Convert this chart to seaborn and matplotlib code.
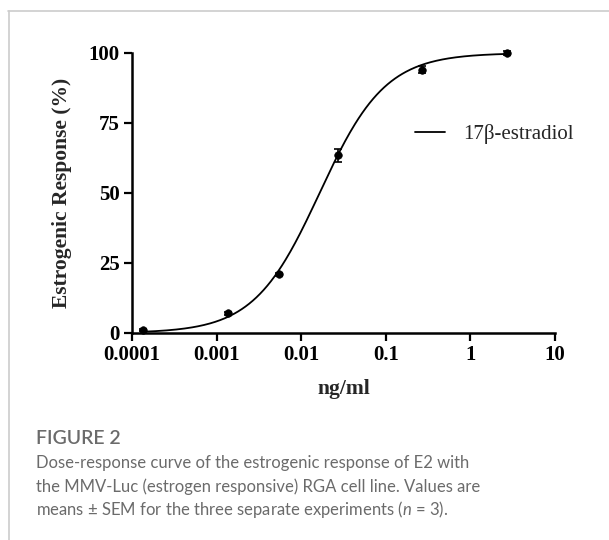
import numpy as np
import pandas as pd
import seaborn as sns
import matplotlib.pyplot as plt
from matplotlib.lines import Line2D

# measured points (ng/ml, % response, SEM)
dose = [0.000136, 0.00136, 0.0055, 0.027, 0.27, 2.7]
response = [1.0, 7.0, 21.0, 63.5, 94.0, 100.0]
sem = [0.3, 0.4, 0.5, 2.3, 1.2, 0.8]

# fitted 4PL curve parameters
bottom, top, ec50, hill = 0.0, 100.0, 0.0165, 1.12

xticks = [0.0001, 0.001, 0.01, 0.1, 1, 10]
xtick_labels = ["0.0001", "0.001", "0.01", "0.1", "1", "10"]
yticks = [0, 25, 50, 75, 100]

sns.set_style("ticks")
plt.rcParams['font.family'] = ['Liberation Serif', 'DejaVu Serif']
plt.rcParams['mathtext.fontset'] = 'custom'
plt.rcParams['mathtext.it'] = 'Lato:italic'
plt.rcParams['mathtext.rm'] = 'Lato'

xs = np.logspace(np.log10(dose[0]), np.log10(dose[-1]), 300)
fit = pd.DataFrame({"dose": xs,
                    "resp": bottom + (top - bottom) / (1 + (ec50 / xs) ** hill)})
pts = pd.DataFrame({"dose": dose, "resp": response, "sem": sem})

fig = plt.figure(figsize=(6.09, 5.4), dpi=100)
ax = fig.add_axes([132 / 609, 1 - 333 / 540, (555 - 132) / 609, (333 - 53) / 540])

sns.lineplot(data=fit, x="dose", y="resp", color="black", lw=1.3, ax=ax, clip_on=False)
ax.errorbar(dose, response, yerr=sem, fmt="none", ecolor="black", elinewidth=1.2,
            capsize=3, capthick=1.2, clip_on=False)
sns.scatterplot(data=pts, x="dose", y="resp", color="black", s=30, edgecolor="black",
                ax=ax, clip_on=False, zorder=5)

ax.set_xscale("log")
ax.set_xlim(0.0001, 10)
ax.set_ylim(0, 100)
ax.set_xticks(xticks)
ax.set_xticklabels(xtick_labels)
ax.minorticks_off()
ax.set_yticks(yticks)
for lab in ax.get_xticklabels() + ax.get_yticklabels():
    lab.set_fontweight("bold")
    lab.set_fontsize(15)
ax.tick_params(length=6, width=1.6, direction="out", pad=3, colors="black")
for side in ["left", "bottom"]:
    ax.spines[side].set_linewidth(1.8)
    ax.spines[side].set_color("black")
sns.despine(ax=ax)

ax.set_xlabel("ng/ml", fontsize=15.5, fontweight="bold", labelpad=10)
ax.set_ylabel("Estrogenic Response (%)", fontsize=15.5, fontweight="bold", labelpad=12)

ax.legend(handles=[Line2D([], [], color="black", lw=1.3)], labels=["17β-estradiol"],
          loc="center left", bbox_to_anchor=(0.669, 0.711), frameon=False, fontsize=15,
          handlelength=1.45, handletextpad=0.85, borderpad=0, borderaxespad=0)

# page frame and caption
fig.add_artist(Line2D([8 / 609, 1], [1 - 11 / 540, 1 - 11 / 540], color="#cccccc", lw=1.2))
fig.add_artist(Line2D([9 / 609, 9 / 609], [0, 1 - 11 / 540], color="#cccccc", lw=1.2))

cap_font = ['Lato', 'DejaVu Sans']
fig.text(36 / 609, 1 - 438 / 540, "FIGURE 2", fontsize=14, color="#6b6b6b",
         family=cap_font, fontweight="semibold", va="center")
lines = ["Dose-response curve of the estrogenic response of E2 with",
         "the MMV-Luc (estrogen responsive) RGA cell line. Values are",
         "means ± SEM for the three separate experiments ($n$ = 3)."]
for i, t in enumerate(lines):
    fig.text(36 / 609, 1 - (463 + 23.5 * i) / 540, t, fontsize=12.0, color="#6b6b6b",
             family=cap_font, va="center")

fig.savefig("out.png", dpi=100)
